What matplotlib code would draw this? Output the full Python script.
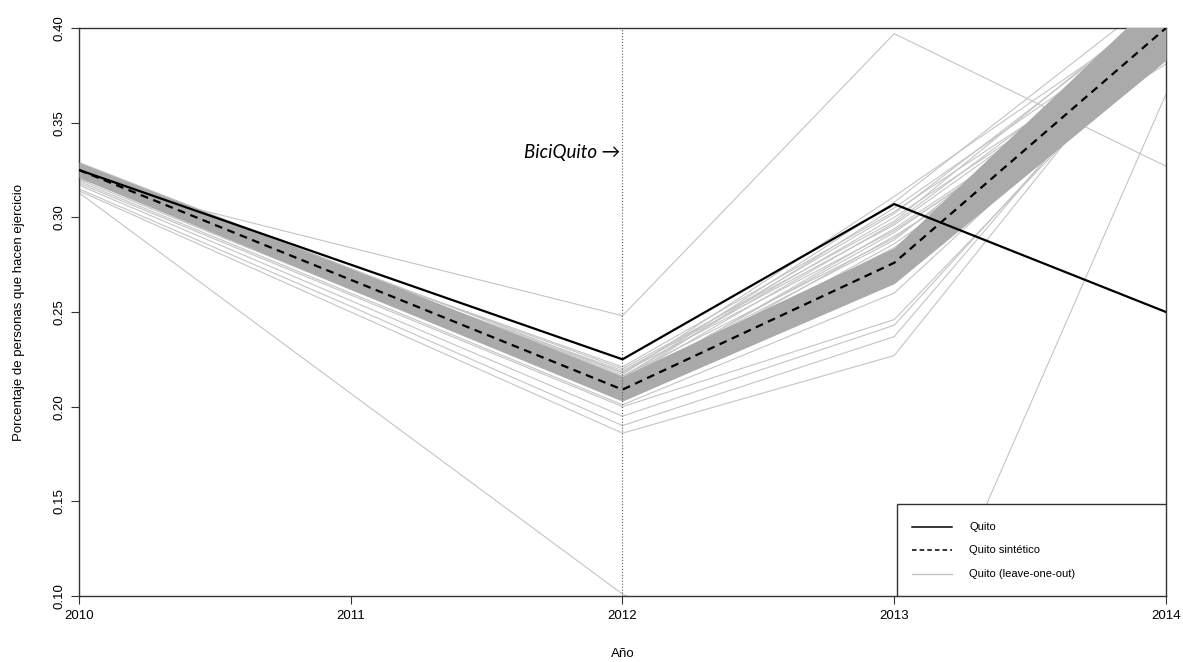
import matplotlib
matplotlib.use("Agg")
import matplotlib.pyplot as plt
from matplotlib.patches import Rectangle

plt.rcParams["font.family"] = ["Liberation Sans", "DejaVu Sans"]

# años
years = [2010, 2011, 2012, 2013, 2014]

# series principales
quito = [0.325, 0.275, 0.225, 0.307, 0.250]
quito_sint = [0.325, 0.267, 0.209, 0.276, 0.400]

# banda gris densa alrededor del sintético
band_lo = [0.321, 0.262, 0.203, 0.265, 0.383]
band_hi = [0.329, 0.273, 0.216, 0.284, 0.420]

# leave-one-out (una fila por corrida)
loo = [
    [0.313, 0.207, 0.101, 0.037, 0.365],
    [0.320, 0.284, 0.248, 0.397, 0.327],
    [0.328, 0.272, 0.216, 0.300, 0.395],
    [0.327, 0.270, 0.214, 0.305, 0.405],
    [0.326, 0.271, 0.217, 0.311, 0.410],
    [0.325, 0.270, 0.219, 0.296, 0.398],
    [0.324, 0.268, 0.212, 0.292, 0.392],
    [0.326, 0.269, 0.213, 0.288, 0.402],
    [0.323, 0.266, 0.210, 0.284, 0.388],
    [0.322, 0.265, 0.208, 0.280, 0.395],
    [0.321, 0.263, 0.205, 0.275, 0.400],
    [0.320, 0.262, 0.204, 0.270, 0.385],
    [0.322, 0.262, 0.203, 0.266, 0.383],
    [0.329, 0.273, 0.218, 0.302, 0.412],
    [0.327, 0.272, 0.220, 0.298, 0.415],
    [0.325, 0.268, 0.211, 0.294, 0.390],
    [0.324, 0.264, 0.207, 0.286, 0.387],
    [0.328, 0.271, 0.215, 0.308, 0.420],
    [0.323, 0.267, 0.209, 0.290, 0.381],
    [0.326, 0.272, 0.221, 0.303, 0.398],
    [0.325, 0.270, 0.218, 0.293, 0.386],
    [0.327, 0.271, 0.216, 0.289, 0.391],
    [0.324, 0.269, 0.214, 0.297, 0.404],
    [0.318, 0.259, 0.200, 0.246, 0.395],
    [0.317, 0.256, 0.195, 0.243, 0.400],
    [0.315, 0.253, 0.190, 0.237, 0.405],
    [0.314, 0.250, 0.186, 0.227, 0.406],
    [0.319, 0.260, 0.201, 0.260, 0.392],
]

y_ticks = [0.10, 0.15, 0.20, 0.25, 0.30, 0.35, 0.40]
y_ticklabels = ["0.10", "0.15", "0.20", "0.25", "0.30", "0.35", "0.40"]
treat_year = 2012

fig = plt.figure(figsize=(11.83, 6.62), dpi=100)
ax = fig.add_axes([0.0668, 0.0997, 0.9188, 0.858])

# lineas leave-one-out
for row in loo:
    ax.plot(years, row, color="#c4c4c4", linewidth=0.8, zorder=2)

# banda
ax.fill_between(years, band_lo, band_hi, color="#aaaaaa", linewidth=0, zorder=3)

ax.plot(years, quito_sint, color="black", linewidth=1.6, dashes=(3.5, 2.5), zorder=4)
ax.plot(years, quito, color="black", linewidth=1.6, zorder=5)

# linea vertical del tratamiento
ax.axvline(treat_year, color="#555555", linewidth=0.8, linestyle=":", zorder=6)
ax.text(treat_year - 0.01, 0.334, "BiciQuito \u2192", ha="right", va="center",
        fontsize=13.5, style="italic", family=["Lato", "DejaVu Sans"], zorder=7)

ax.set_xlim(2010, 2014)
ax.set_ylim(0.10, 0.40)
ax.set_xticks(years)
ax.set_xticklabels([str(y) for y in years], fontsize=9.5)
ax.set_yticks(y_ticks)
ax.set_yticklabels(y_ticklabels, rotation=90, va="center", fontsize=9.5)
ax.tick_params(direction="out", length=6, width=0.8, color="#333333", pad=4)

for s in ax.spines.values():
    s.set_color("#333333")
    s.set_linewidth(1.0)

ax.set_xlabel("A\u00f1o", fontsize=9.5, labelpad=19)
ax.set_ylabel("Porcentaje de personas que hacen ejercicio", fontsize=9.5, labelpad=20)

# leyenda dibujada a mano, estilo R
lx0, ly0 = 0.7524, 0.0
ax.add_patch(Rectangle((lx0, ly0), 1 - lx0, 0.162, transform=ax.transAxes,
                       facecolor="white", edgecolor="#333333", linewidth=1.0, zorder=8))
leg_items = [
    ("Quito", dict(color="black", linewidth=1.1)),
    ("Quito sint\u00e9tico", dict(color="black", linewidth=1.1, dashes=(3, 2))),
    ("Quito (leave-one-out)", dict(color="#c4c4c4", linewidth=1.0)),
]
row_y = [0.121, 0.081, 0.039]
for (lab, kw), yy in zip(leg_items, row_y):
    ax.plot([0.766, 0.803], [yy, yy], transform=ax.transAxes, zorder=9, **kw)
    ax.text(0.819, yy, lab, transform=ax.transAxes, va="center", ha="left",
            fontsize=8, zorder=9)

fig.savefig("out.png", dpi=100)
